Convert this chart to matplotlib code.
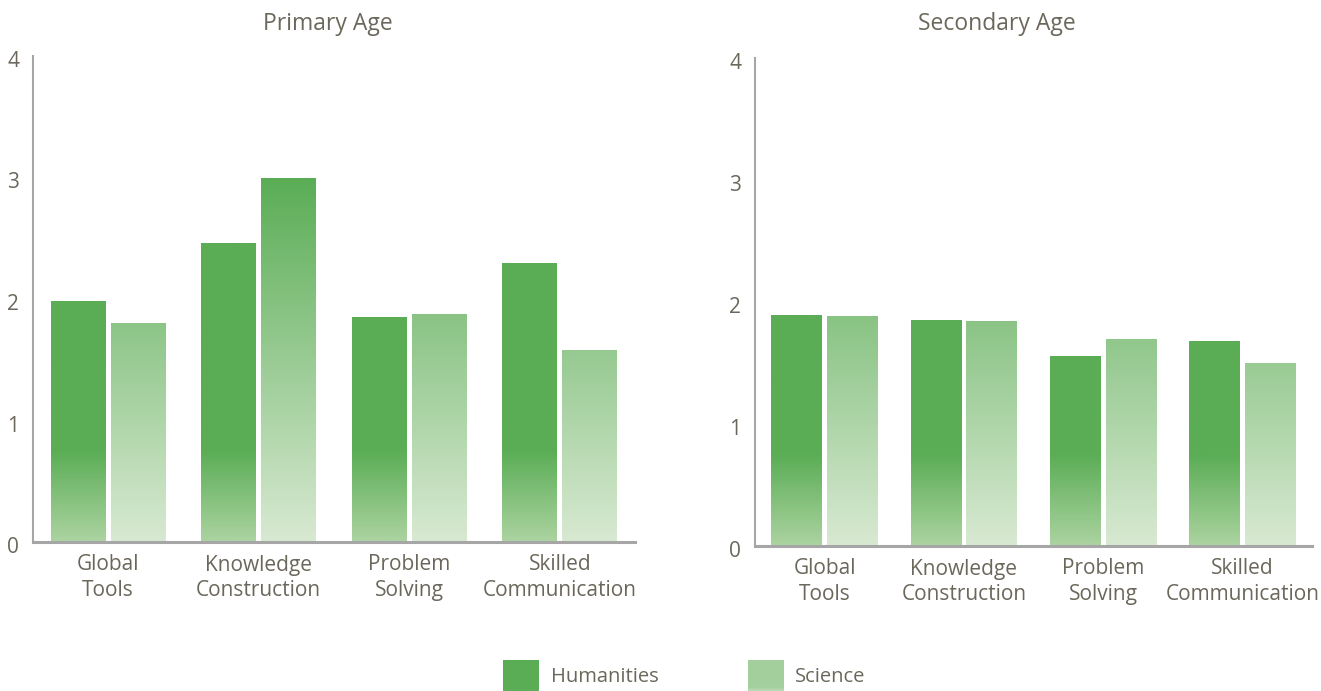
import numpy as np
import matplotlib
matplotlib.use("Agg")
import matplotlib.pyplot as plt
from matplotlib.colors import LinearSegmentedColormap, Normalize
from matplotlib.transforms import ScaledTranslation

# ---- data ----
categories = ["Global\nTools", "Knowledge\nConstruction", "Problem\nSolving", "Skilled\nCommunication"]
series_names = ["Humanities", "Science"]
panel_titles = ["Primary Age", "Secondary Age"]
primary_humanities = [1.98, 2.46, 1.85, 2.29]
primary_science = [1.80, 2.99, 1.87, 1.58]
secondary_humanities = [1.89, 1.85, 1.55, 1.68]
secondary_science = [1.88, 1.84, 1.69, 1.50]
y_ticks = [0, 1, 2, 3, 4]

# ---- style ----
plt.rcParams["font.family"] = ["Open Sans", "DejaVu Sans"]
TEXT = "#6b675b"
SPINE = "#a6a6a6"
YMAX = 4.0
norm = Normalize(0, YMAX)
hum_cmap = LinearSegmentedColormap.from_list(
    "hum", [(0.0, "#abd3a0"), (0.75 / YMAX, "#5aad55"), (1.0, "#5aad55")])
sci_cmap = LinearSegmentedColormap.from_list(
    "sci", [(0.0, "#d8e9d2"), (3.0 / YMAX, "#5aad55"), (1.0, "#50a84b")])

W, H = 1321, 691
fig = plt.figure(figsize=(W / 100, H / 100), dpi=100)


def px_axes(x0, x1, y_zero, y_top):
    return fig.add_axes([x0 / W, (H - y_zero) / H, (x1 - x0) / W, (y_zero - y_top) / H])


def gradient_bars(ax, xs, vals, width, cmap):
    bars = ax.bar(xs, vals, width, color="none", edgecolor="none")
    for r in bars:
        x0, w, h = r.get_x(), r.get_width(), r.get_height()
        ys = np.linspace(0, h, 256)[:, None]
        ax.imshow(ys, cmap=cmap, norm=norm, extent=(x0, x0 + w, 0, h),
                  origin="lower", aspect="auto", interpolation="bilinear", zorder=2)


def panel(ax, hum, sci):
    x = np.arange(len(categories))
    bw = 0.365
    off = bw / 2 + 0.0175
    gradient_bars(ax, x - off, hum, bw, hum_cmap)
    gradient_bars(ax, x + off, sci, bw, sci_cmap)
    ax.set_xlim(-0.5, len(categories) - 0.5)
    ax.set_ylim(0, YMAX)
    ax.set_yticks(y_ticks)
    ax.set_yticklabels([str(t) for t in y_ticks])
    ax.set_xticks(x)
    ax.set_xticklabels(categories, linespacing=1.3)
    ax.tick_params(axis="both", length=0, labelsize=15, colors=TEXT)
    ax.tick_params(axis="y", pad=10)
    ax.tick_params(axis="x", pad=9)
    for s in ("top", "right"):
        ax.spines[s].set_visible(False)
    ax.spines["left"].set_color(SPINE)
    ax.spines["left"].set_linewidth(1.5)
    ax.spines["bottom"].set_color(SPINE)
    ax.spines["bottom"].set_linewidth(2.2)
    ax.set_facecolor("none")
    # y labels sit a few pixels below their value
    for t in ax.get_yticklabels():
        t.set_transform(t.get_transform() + ScaledTranslation(0, -3 / 100, fig.dpi_scale_trans))


ax1 = px_axes(33, 635, 542, 56)
panel(ax1, primary_humanities, primary_science)
ax2 = px_axes(755, 1312, 546, 58)
panel(ax2, secondary_humanities, secondary_science)

fig.text(328 / W, (H - 24) / H, panel_titles[0], ha="center", va="center", fontsize=16.5, color=TEXT)
fig.text(997 / W, (H - 24) / H, panel_titles[1], ha="center", va="center", fontsize=16.5, color=TEXT)

# ---- legend ----
legend_specs = [(503, 551, hum_cmap, 1.2), (748, 795, sci_cmap, 1.25)]
for (sx, tx, cmap, level), name in zip(legend_specs, series_names):
    lax = fig.add_axes([sx / W, 0, 36 / W, 31 / H])
    grad = np.full((64, 1), level)
    grad[:8, 0] = np.linspace(level * 0.55, level, 8)
    lax.imshow(grad, cmap=cmap, norm=norm, origin="lower", aspect="auto",
               interpolation="bilinear", extent=(0, 1, 0, 1))
    lax.set_axis_off()
    fig.text(tx / W, (H - 677) / H, name, ha="left", va="center", fontsize=14.5, color=TEXT)

fig.savefig("out.png", dpi=100, facecolor="white")
